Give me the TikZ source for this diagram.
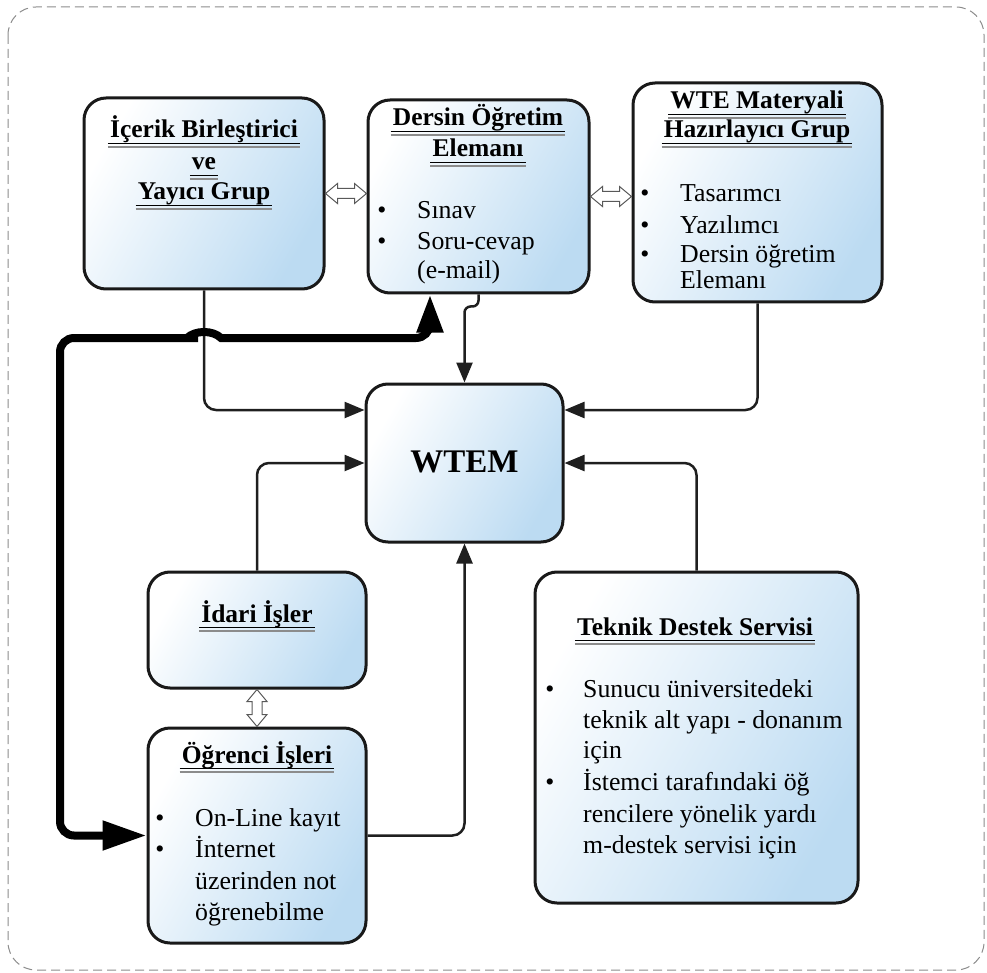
\documentclass[tikz,border=0pt]{standalone}
\usepackage{fontspec}
\setmainfont{Liberation Serif}
\usetikzlibrary{arrows.meta,calc}
\definecolor{boxblue}{RGB}{188,219,242}
\newcommand\dul[1]{%
  \draw[black, line width=1.2pt] ($(#1.base west)+(-2,5.5)$) -- ($(#1.base east)+(2,5.5)$);
  \draw[black!45, line width=1.8pt] ($(#1.base west)+(-2,8.7)$) -- ($(#1.base east)+(2,8.7)$);}
\newcommand\hdbl[2]{%
  \draw[hollow] let \p1=(#1), \p2=(#2) in
    (\x1,\y1) -- (\x1+12pt,\y1+10pt) -- (\x1+12pt,\y1+5pt) -- (\x2-12pt,\y1+5pt) -- (\x2-12pt,\y1+10pt)
    -- (\x2,\y1) -- (\x2-12pt,\y1-10pt) -- (\x2-12pt,\y1-5pt) -- (\x1+12pt,\y1-5pt) -- (\x1+12pt,\y1-10pt) -- cycle;}
\newcommand\vdbl[2]{%
  \draw[hollow] let \p1=(#1), \p2=(#2) in
    (\x1,\y1) -- (\x1-10pt,\y1-12pt) -- (\x1-5pt,\y1-12pt) -- (\x1-5pt,\y2+12pt) -- (\x1-10pt,\y2+12pt)
    -- (\x1,\y2) -- (\x1+10pt,\y2+12pt) -- (\x1+5pt,\y2+12pt) -- (\x1+5pt,\y1-12pt) -- (\x1+10pt,\y1-12pt) -- cycle;}
\begin{document}
\begin{tikzpicture}[x=1pt,y=-1pt,
  box/.style={draw=black!90, line width=3pt, rounded corners=22pt, top color=boxblue, bottom color=white, shading angle=240, inner sep=0pt},
  ttl/.style={font=\fontsize{25.5}{30}\selectfont\bfseries, inner sep=0pt, anchor=base},
  txt/.style={font=\fontsize{25.8}{31}\selectfont, inner sep=0pt, anchor=base west},
  bul/.style={font=\fontsize{25.8}{31}\selectfont, inner sep=0pt, anchor=base},
  conn/.style={draw=black!88, line width=2.5pt, rounded corners=12pt, -{Triangle[length=20pt,width=16pt]}},
  thk/.style={draw=black, line width=8pt, rounded corners=14pt, {Triangle[length=44pt,width=28pt]}-{Triangle[length=38pt,width=25pt]}},
  hollow/.style={draw=black!65, fill=white, line width=1pt, line join=miter},
  frame/.style={draw=black!45, line width=1pt, dash pattern=on 9pt off 5pt, rounded corners=28pt}
]
\useasboundingbox (0,0) rectangle (987,973);
\draw[frame] (8,7) rectangle (984,970);

% boxes
\node[box, minimum width=240pt, minimum height=191pt] (icerik) at (204,193.5) {};
\node[box, minimum width=221pt, minimum height=193pt] (dersin) at (478.5,196.5) {};
\node[box, minimum width=249pt, minimum height=219pt] (wte) at (757.5,192.5) {};
\node[box, minimum width=197pt, minimum height=158pt] (wtem) at (464.5,463) {};
\node[box, minimum width=218pt, minimum height=116pt] (idari) at (257,630) {};
\node[box, minimum width=218pt, minimum height=215pt] (ogrenci) at (257,835.5) {};
\node[box, minimum width=323pt, minimum height=331pt] (teknik) at (696.5,737.5) {};

% texts: İçerik
\node[ttl] (t1a) at (204,138) {İçerik Birleştirici}; \dul{t1a}
\node[ttl] (t1b) at (204,170) {ve}; \dul{t1b}
\node[ttl] (t1c) at (204,200) {Yayıcı Grup}; \dul{t1c}
% Dersin
\node[ttl] (t2a) at (478,126) {Dersin Öğretim}; \dul{t2a}
\node[ttl] (t2b) at (478,157) {Elemanı}; \dul{t2b}
\node[bul] (b2a) at (382,219) {•}; \node[txt] (s2a) at (417,219) {Sınav};
\node[bul] (b2b) at (382,250) {•}; \node[txt] (s2b) at (417,250) {Soru-cevap};
\node[txt] (s2c) at (417,279) {(e-mail)};
% WTE
\node[ttl] (t3a) at (757,109) {WTE Materyali}; \dul{t3a}
\node[ttl] (t3b) at (757,138) {Hazırlayıcı Grup}; \dul{t3b}
\node[bul] (b3a) at (645,202) {•}; \node[txt] (s3a) at (680,202) {Tasarımcı};
\node[bul] (b3b) at (645,234) {•}; \node[txt] (s3b) at (680,234) {Yazılımcı};
\node[bul] (b3c) at (645,263) {•}; \node[txt] (s3c) at (680,263) {Dersin öğretim};
\node[txt] (s3d) at (680,289) {Elemanı};
% WTEM
\node[font=\fontsize{33}{40}\selectfont\bfseries, inner sep=0pt, anchor=base] (t4) at (464.5,472) {WTEM};
% İdari
\node[ttl] (t5) at (257,622) {İdari İşler}; \dul{t5}
% Öğrenci
\node[ttl] (t6) at (257,763) {Öğrenci İşleri}; \dul{t6}
\node[bul] (b6a) at (160,826) {•}; \node[txt] (s6a) at (195,826) {On-Line kayıt};
\node[bul] (b6b) at (160,857) {•}; \node[txt] (s6b) at (195,857) {İnternet};
\node[txt] (s6c) at (195,889) {üzerinden not};
\node[txt] (s6d) at (195,920) {öğrenebilme};
% Teknik
\node[ttl] (t7) at (695,635) {Teknik Destek Servisi}; \dul{t7}
\node[bul] (b7a) at (550,697) {•}; \node[txt] (s7a) at (583,697) {Sunucu üniversitedeki};
\node[txt] (s7b) at (583,728) {teknik alt yapı - donanım};
\node[txt] (s7c) at (583,758) {için};
\node[bul] (b7b) at (550,790) {•}; \node[txt] (s7d) at (583,790) {İstemci tarafındaki öğ};
\node[txt] (s7e) at (583,822) {rencilere yönelik yardı};
\node[txt] (s7f) at (583,853) {m-destek servisi için};

% helper coordinates
\coordinate (y410) at (0,410);
\coordinate (tx) at (430,0);
\coordinate (ty) at (0,338);

% thin connectors
\draw[conn] (icerik.south) |- (wtem.west |- y410);
\draw[conn] (wte.south) |- (wtem.east |- y410);
\draw[conn, rounded corners=6pt] (dersin.south) -- ++(0,12) -| (wtem.north);
\draw[conn] (idari.north) |- (wtem.west);
\draw[conn] (teknik.north) |- (wtem.east);
\draw[conn] (ogrenci.east) -| (wtem.south);

% thick connector
\draw[thk] (ogrenci.west) -| (60,338) -- (184,338) [sharp corners] -- (187,338)
  .. controls (195,330) and (213,330) .. (221,338) -- (224,338) [rounded corners=14pt]
  -- (tx |- ty) -- (tx |- dersin.south);

% hollow double arrows
\hdbl{icerik.east}{dersin.west}
\hdbl{dersin.east}{wte.west}
\vdbl{idari.south}{ogrenci.north}
\end{tikzpicture}
\end{document}
